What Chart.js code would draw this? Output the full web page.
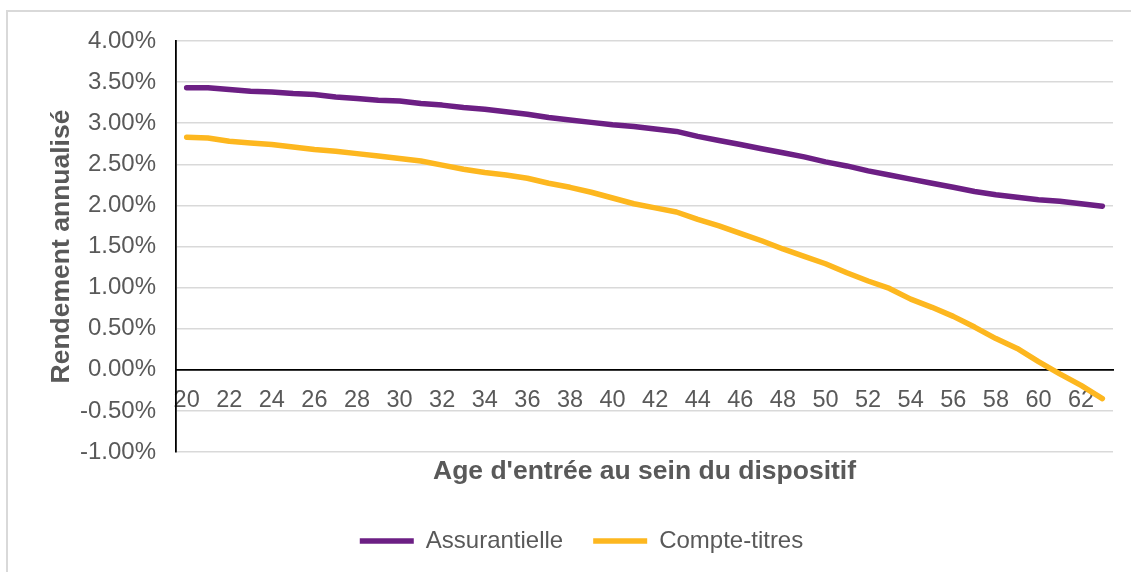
<!DOCTYPE html>
<html>
<head>
<meta charset="utf-8">
<script src="https://cdn.jsdelivr.net/npm/chart.js@4/dist/chart.umd.min.js"></script>
<style>
  body { margin: 0; background: #fff; }
  #wrap { width: 1131px; height: 572px; position: relative; }
</style>
</head>
<body>
<div id="wrap"><canvas id="rendChart"></canvas></div>
<script>
// ages 20..63
const ages = [20, 21, 22, 23, 24, 25, 26, 27, 28, 29, 30, 31, 32, 33, 34, 35, 36, 37, 38, 39, 40, 41,
  42, 43, 44, 45, 46, 47, 48, 49, 50, 51, 52, 53, 54, 55, 56, 57, 58, 59, 60, 61, 62, 63];

const assurantielle = [3.43, 3.43, 3.41, 3.39, 3.38, 3.36, 3.35, 3.32, 3.30, 3.28, 3.27, 3.24, 3.22,
  3.19, 3.17, 3.14, 3.11, 3.07, 3.04, 3.01, 2.98, 2.96, 2.93, 2.90, 2.84, 2.79, 2.74, 2.69, 2.64,
  2.59, 2.53, 2.48, 2.42, 2.37, 2.32, 2.27, 2.22, 2.17, 2.13, 2.10, 2.07, 2.05, 2.02, 1.99];

const compteTitres = [2.83, 2.82, 2.78, 2.76, 2.74, 2.71, 2.68, 2.66, 2.63, 2.60, 2.57, 2.54, 2.49,
  2.44, 2.40, 2.37, 2.33, 2.27, 2.22, 2.16, 2.09, 2.02, 1.97, 1.92, 1.83, 1.75, 1.66, 1.57, 1.47,
  1.38, 1.29, 1.18, 1.08, 0.99, 0.86, 0.76, 0.65, 0.52, 0.38, 0.26, 0.10, -0.05, -0.19, -0.35];

const seriesNames = ["Assurantielle", "Compte-titres"];
const yTitle = "Rendement annualisé";
const xTitle = "Age d'entrée au sein du dispositif";

const FONT = "'Liberation Sans', Arial, sans-serif";
const GREY = "#595959";
const PURPLE = "#6C1F84";
const GOLD = "#FDB71F";

// light frame round the chart, like the Excel chart area
const framePlugin = {
  id: "frame",
  beforeDraw(chart) {
    const ctx = chart.ctx;
    ctx.save();
    ctx.strokeStyle = "#D9D9D9";
    ctx.lineWidth = 2;
    ctx.beginPath();
    ctx.moveTo(7, chart.height);
    ctx.lineTo(7, 11);
    ctx.lineTo(chart.width, 11);
    ctx.stroke();
    ctx.restore();
  }
};

const ctx = document.getElementById("rendChart").getContext("2d");

new Chart(ctx, {
  type: "line",
  data: {
    labels: ages,
    datasets: [
      {
        label: seriesNames[0],
        data: assurantielle,
        borderColor: PURPLE,
        backgroundColor: PURPLE,
        borderWidth: 5.5,
        borderCapStyle: "round",
        borderJoinStyle: "round",
        pointRadius: 0,
        tension: 0,
        fill: false,
      },
      {
        label: seriesNames[1],
        data: compteTitres,
        borderColor: GOLD,
        backgroundColor: GOLD,
        borderWidth: 5.5,
        borderCapStyle: "round",
        borderJoinStyle: "round",
        pointRadius: 0,
        tension: 0,
        fill: false,
      },
    ],
  },
  options: {
    responsive: true,
    maintainAspectRatio: false,
    animation: false,
    layout: { padding: { left: 50, right: 18, top: 41, bottom: 9 } },
    plugins: {
      tooltip: { enabled: false },
      legend: {
        position: "bottom",
        labels: {
          usePointStyle: true,
          pointStyle: "line",
          pointStyleWidth: 54,
          padding: 30,
          color: GREY,
          font: { family: FONT, size: 24 },
        },
      },
    },
    scales: {
      x: {
        type: "category",
        position: { y: 0 },
        offset: true,
        afterFit(scale) { scale.height = 0; },
        grid: { display: false, drawTicks: false },
        border: { display: true, color: "#000", width: 1.8 },
        ticks: {
          autoSkip: false,
          maxRotation: 0,
          padding: 17,
          color: GREY,
          font: { family: FONT, size: 23.5 },
          callback(val, i) { return i % 2 === 0 ? this.getLabelForValue(val) : ""; },
        },
      },
      x2: {
        type: "category",
        position: "bottom",
        afterFit(scale) { scale.height = 47; },
        grid: { display: false, drawTicks: false },
        border: { display: false },
        ticks: { display: false },
        title: {
          display: true,
          text: xTitle,
          color: GREY,
          font: { family: FONT, size: 26.5, weight: "bold" },
          padding: { top: 0, bottom: 11.4 },
        },
      },
      y: {
        min: -1,
        max: 4,
        afterFit(scale) { scale.width = 126; },
        grid: { color: "#D9D9D9", lineWidth: 1.6, drawTicks: false },
        border: { display: true, color: "#000", width: 1.8 },
        ticks: {
          stepSize: 0.5,
          padding: 20,
          color: GREY,
          font: { family: FONT, size: 24 },
          callback: v => v.toFixed(2) + "%",
        },
        title: {
          display: true,
          text: yTitle,
          color: GREY,
          font: { family: FONT, size: 26.5, weight: "bold" },
          padding: { top: -4, bottom: 0 },
        },
      },
    },
  },
  plugins: [framePlugin],
});
</script>
</body>
</html>
